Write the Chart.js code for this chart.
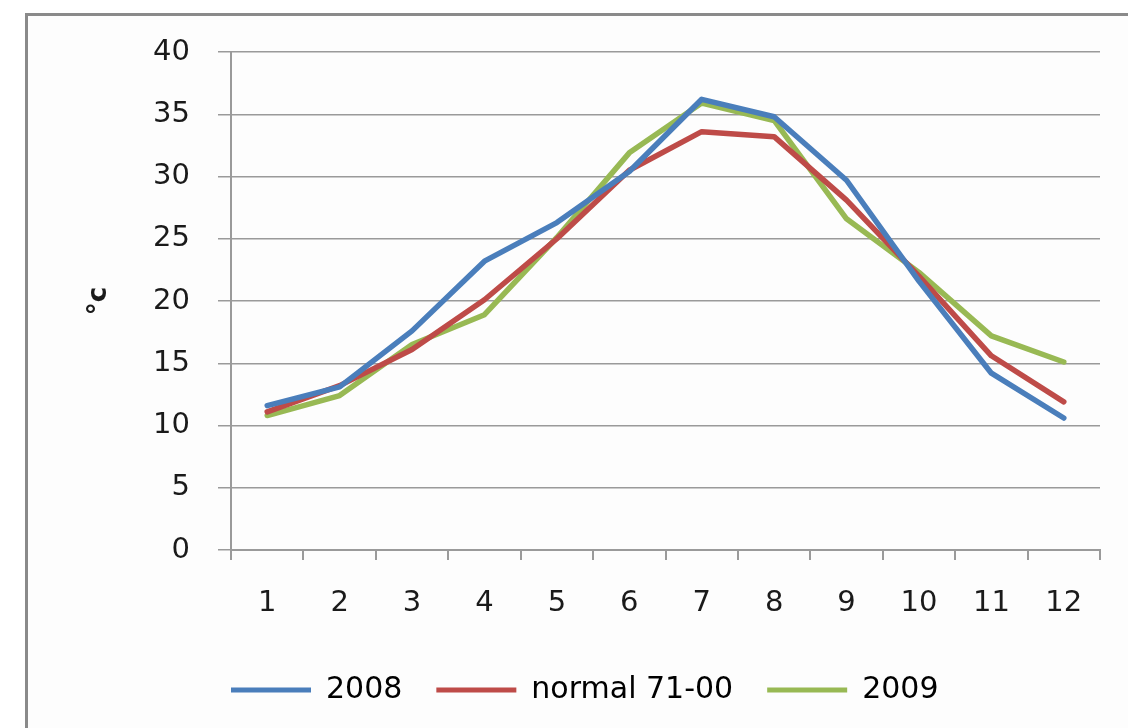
<!DOCTYPE html>
<html>
<head>
<meta charset="utf-8">
<script src="https://cdn.jsdelivr.net/npm/chart.js@4/dist/chart.umd.min.js"></script>
<style>
  html, body { margin: 0; padding: 0; background: #ffffff; width: 1128px; height: 728px; overflow: hidden; }
  #frame { position: absolute; left: 25px; top: 13px; width: 1200px; height: 800px;
           border-left: 3px solid #8a8a8a; border-top: 3px solid #8a8a8a; background: #fdfdfd; }
  #wrap { position: absolute; left: 0; top: 0; width: 1128px; height: 728px; }
</style>
</head>
<body>
<div id="frame"></div>
<div id="wrap"><canvas id="c" width="1128" height="728"></canvas></div>
<script>
const months = ['1','2','3','4','5','6','7','8','9','10','11','12'];
const seriesNames = ['2008', 'normal 71-00', '2009'];
const t2008   = [11.6, 13.1, 17.6, 23.2, 26.3, 30.4, 36.2, 34.8, 29.7, 21.6, 14.2, 10.6];
const tNormal = [11.1, 13.2, 16.1, 20.1, 25.0, 30.5, 33.6, 33.2, 28.1, 22.0, 15.6, 11.9];
const t2009   = [10.8, 12.4, 16.5, 18.9, 25.1, 31.9, 35.9, 34.5, 26.6, 22.3, 17.2, 15.1];
const yMin = 0, yMax = 40, yStep = 5;
const yTitle = '°c';

const colors = ['#4a7ebb', '#be4b48', '#98b954'];

const placeLegend = {
  id: 'placeLegend',
  afterLayout(chart) {
    const lg = chart.legend;
    if (!lg) return;
    const w = lg.right - lg.left;
    lg.left = 197;
    lg.right = 197 + w;
    const h = lg.bottom - lg.top;
    lg.top = 641;
    lg.bottom = 641 + h;
  }
};

new Chart(document.getElementById('c'), {
  type: 'line',
  data: {
    labels: months,
    datasets: [t2008, tNormal, t2009].map((d, i) => ({
      label: seriesNames[i],
      data: d,
      borderColor: colors[i],
      backgroundColor: colors[i],
      borderWidth: 5.5,
      pointRadius: 0,
      tension: 0,
      borderJoinStyle: 'round',
      borderCapStyle: 'round'
    }))
  },
  options: {
    responsive: false,
    animation: false,
    layout: { padding: { left: 80, right: 28, top: 52, bottom: 14 } },
    plugins: {
      tooltip: { enabled: false },
      legend: {
        position: 'bottom',
        align: 'start',
        labels: {
          boxWidth: 80,
          boxHeight: 5,
          padding: 34,
          color: '#1a1a1a',
          font: { family: 'DejaVu Sans', size: 30 },
          generateLabels(chart) {
            return chart.data.datasets.map((ds, i) => ({
              text: ds.label,
              fillStyle: ds.borderColor,
              strokeStyle: ds.borderColor,
              lineWidth: 0,
              hidden: false,
              datasetIndex: i
            }));
          }
        }
      }
    },
    scales: {
      x: {
        offset: true,
        grid: { display: true, drawOnChartArea: false, drawTicks: true, tickLength: 10, offset: true, color: '#9a9a9a', lineWidth: 2 },
        border: { display: true, color: '#9a9a9a', width: 2 },
        ticks: { color: '#1a1a1a', font: { family: 'DejaVu Sans', size: 29 }, padding: 26, maxRotation: 0 },
        afterFit(scale) { scale.height = 90; }
      },
      y: {
        min: yMin, max: yMax,
        ticks: { stepSize: yStep, color: '#1a1a1a', font: { family: 'DejaVu Sans', size: 29 }, padding: 28 },
        grid: { color: '#9a9a9a', lineWidth: 1.5, tickLength: 13, drawTicks: true },
        border: { display: true, color: '#9a9a9a', width: 2 },
        title: { display: true, text: yTitle, color: '#1a1a1a', font: { family: 'DejaVu Sans', size: 26, weight: 'bold' }, padding: { top: 4, bottom: 0 } },
        afterFit(scale) { scale.width = 151; scale.paddingTop = 0; scale.paddingBottom = 0; }
      }
    }
  },
  plugins: [placeLegend]
});
</script>
</body>
</html>
